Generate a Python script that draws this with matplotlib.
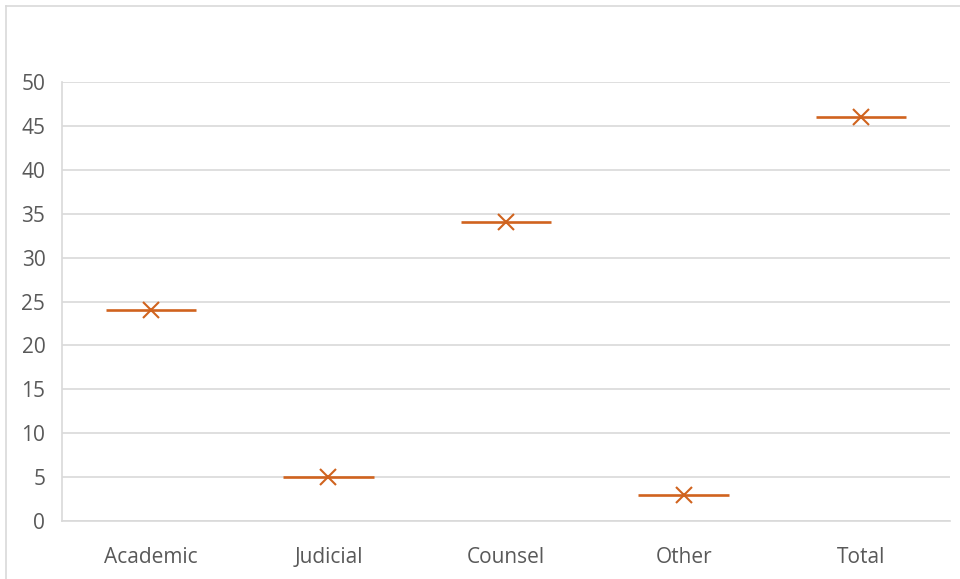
import matplotlib
matplotlib.use("Agg")
import matplotlib.pyplot as plt
from matplotlib.lines import Line2D

categories = ["Academic", "Judicial", "Counsel", "Other", "Total"]
values = [24, 5, 34, 3, 46]
y_ticks = [0, 5, 10, 15, 20, 25, 30, 35, 40, 45, 50]

orange = "#D0631E"
grid_c = "#D9D9D9"
text_c = "#595959"

plt.rcParams["font.family"] = ["Open Sans", "DejaVu Sans"]

W, H = 960, 579
fig = plt.figure(figsize=(W / 100, H / 100), dpi=100)
ax = fig.add_axes([62 / W, 1 - 521 / H, (950 - 62) / W, (521 - 82) / H])

# chart area frame (top and left edges show)
fig.add_artist(Line2D([6 / W, 6 / W], [0, 1 - 6 / H], color=grid_c, lw=1.2,
                      transform=fig.transFigure))
fig.add_artist(Line2D([6 / W, 1], [1 - 6 / H, 1 - 6 / H], color=grid_c, lw=1.2,
                      transform=fig.transFigure))

x = list(range(len(categories)))
half = 0.255
for xi, v in zip(x, values):
    ax.plot([xi - half, xi + half], [v, v], color=orange, lw=1.9, solid_capstyle="butt", zorder=3)
ax.plot(x, values, linestyle="none", marker="x", markersize=11, markeredgewidth=1.5,
        color=orange, zorder=4)

ax.set_xlim(-0.5, len(categories) - 0.5)
ax.set_ylim(0, 50)
ax.set_yticks(y_ticks)
ax.set_xticks(x)
ax.set_xticklabels(categories)
ax.yaxis.grid(True, color=grid_c, lw=1.2)
ax.set_axisbelow(True)
for s in ["top", "right"]:
    ax.spines[s].set_visible(False)
ax.spines["left"].set_color(grid_c)
ax.spines["bottom"].set_color(grid_c)
ax.spines["left"].set_linewidth(1.2)
ax.spines["bottom"].set_linewidth(1.2)
ax.tick_params(axis="both", length=0, colors=text_c, labelsize=15)
ax.tick_params(axis="x", pad=19)
ax.tick_params(axis="y", pad=12)

fig.savefig("out.png", dpi=100, facecolor="white")
